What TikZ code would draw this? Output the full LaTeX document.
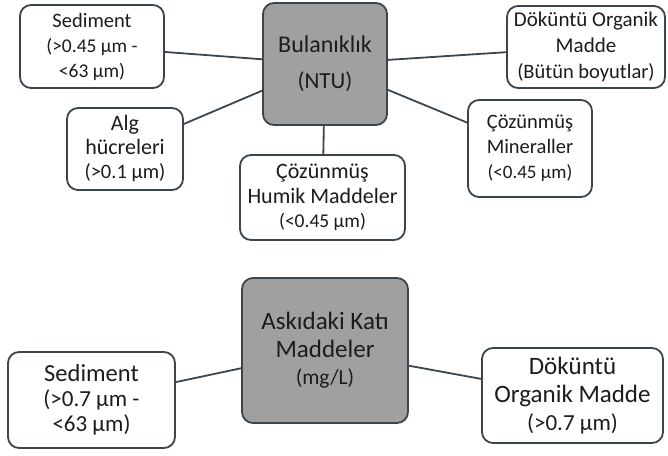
\documentclass[tikz,border=0pt]{standalone}
\usepackage{fontspec}
\setmainfont{Carlito}
\usepackage{tikz}
\usetikzlibrary{positioning}

\definecolor{edgeslate}{HTML}{3B4550}
\definecolor{hubgray}{HTML}{A0A0A0}
\definecolor{inkdark}{HTML}{1C1C1C}

\newcommand{\fs}[2]{\fontsize{#1}{#2}\selectfont}

\begin{document}
\begin{tikzpicture}[
    x=1pt, y=-1pt,
    box/.style={rectangle, rounded corners=11pt, draw=edgeslate, line width=1.8pt,
                fill=white, align=center, inner sep=1pt, text=inkdark},
    hub/.style={box, fill=hubgray},
    link/.style={draw=edgeslate, line width=1.8pt}
  ]
  \useasboundingbox (0,0) rectangle (668,455);

  % upper diagram: turbidity
  \node[hub, minimum width=124pt, minimum height=122pt, font=\fs{24}{36}]
    (bul) at (325,64) {Bulanıklık\\{\fs{23}{36}(NTU)}};
  \node[box, minimum width=144pt, minimum height=83pt, font=\fs{20.5}{25}]
    (sedA) at (92,46.5) {Sediment\\{\fs{19.5}{25}(>0.45 µm -}\\{\fs{19.5}{25}<63 µm)}};
  \node[box, minimum width=116pt, minimum height=82pt, font=\fs{22}{24}]
    (alg) at (125,149) {Alg\\hücreleri\\{\fs{20.5}{24}(>0.1 µm)}};
  \node[box, minimum width=165pt, minimum height=85pt, font=\fs{22}{24.5}]
    (humik) at (322.5,197.5) {Çözünmüş\\Humik Maddeler\\{\fs{19.5}{24.5}(<0.45 µm)}};
  \node[box, minimum width=124pt, minimum height=97pt, font=\fs{20.5}{25}]
    (minr) at (530,148.5) {Çözünmüş\\Mineraller\\{\fs{19}{25}(<0.45 µm)}};
  \node[box, minimum width=158pt, minimum height=82pt, font=\fs{21}{26}]
    (dokA) at (586,47) {Döküntü Organik\\Madde\\{\fs{20.5}{26}(Bütün boyutlar)}};

  \draw[link] (sedA) -- (bul);
  \draw[link] (alg) -- (bul);
  \draw[link] (humik) -- (bul);
  \draw[link] (minr) -- (bul);
  \draw[link] (dokA) -- (bul);

  % lower diagram: suspended solids
  \node[hub, minimum width=166pt, minimum height=145pt, font=\fs{25}{27.5}]
    (ask) at (325,350.5) {Askıdaki Katı\\Maddeler\\{\fs{21.5}{27.5}(mg/L)}};
  \node[box, minimum width=167pt, minimum height=96pt, font=\fs{24.5}{25}]
    (sedB) at (91.5,400) {Sediment\\{\fs{23}{25}(>0.7 µm -}\\{\fs{23}{25}<63 µm)}};
  \node[box, minimum width=181pt, minimum height=95pt, font=\fs{25}{28}]
    (dokB) at (572.5,395.5) {Döküntü\\Organik Madde\\{\fs{23}{28}(>0.7 µm)}};

  \draw[link] (sedB) -- (ask);
  \draw[link] (dokB) -- (ask);
\end{tikzpicture}
\end{document}
